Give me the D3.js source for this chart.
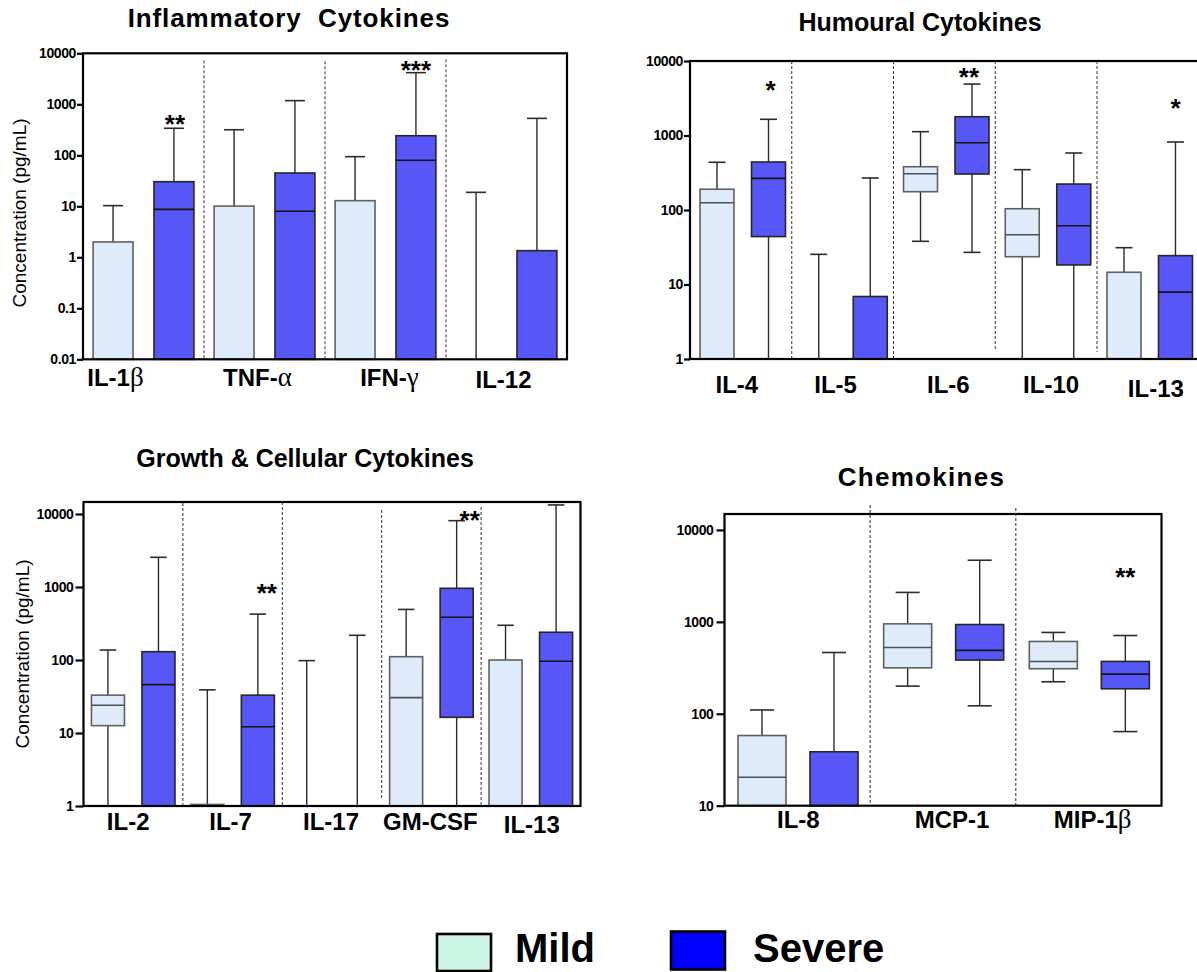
<!DOCTYPE html>
<html>
<head>
<meta charset="utf-8">
<script src="https://cdn.jsdelivr.net/npm/d3@7"></script>
<style>
body { margin: 0; background: #fff; }
svg text { font-family: "Liberation Sans", Arial, Helvetica, sans-serif; }
</style>
</head>
<body>
<svg id="chart" width="1197" height="972"></svg>
<script>
// each box is [min, q1, median, q3, max]; null means it sits at/below the axis floor (not drawn)

// Inflammatory cytokines
const inflCats = ["IL-1β", "TNF-α", "IFN-γ", "IL-12"];
const inflMild = [
    [null, null, null, 2.0, 10.3],
    [null, null, null, 10.1, 317],
    [null, null, null, 12.9, 94],
    [null, null, null, null, 18.8]
];
const inflSevere = [
    [null, null, 8.7, 30.4, 339],
    [null, null, 8.0, 45, 1180],
    [null, null, 80, 242, 4170],
    [null, null, null, 1.35, 530]
];
const inflTicks = [0.01, 0.1, 1, 10, 100, 1000, 10000];
const inflStars = [["IL-1β", "**", 515], ["IFN-γ", "***", 5900]];

// Humoural cytokines
const humCats = ["IL-4", "IL-5", "IL-6", "IL-10", "IL-13"];
const humMild = [
    [null, null, 125, 190, 437],
    [null, null, null, null, 25.4],
    [38, 176, 307, 381, 1125],
    [null, 23.6, 46.6, 104, 348],
    [null, null, null, 14.6, 31.2]
];
const humSevere = [
    [null, 44, 266, 441, 1650],
    [null, null, null, 6.9, 269],
    [27, 304, 800, 1786, 4900],
    [null, 18.3, 61.5, 223, 582],
    [null, null, 7.9, 24.4, 818]
];
const humTicks = [1, 10, 100, 1000, 10000];
const humStars = [["IL-4", "*", 4770], ["IL-6", "**", 7200], ["IL-13", "*", 2740]];

// Growth & cellular cytokines
const growCats = ["IL-2", "IL-7", "IL-17", "GM-CSF", "IL-13"];
const growMild = [
    [null, 12.6, 24, 33, 137],
    [null, null, null, 1.05, 39],
    [null, null, null, null, 98],
    [null, null, 30.5, 111, 493],
    [null, null, null, 100, 299]
];
const growSevere = [
    [null, null, 46, 130, 2550],
    [null, null, 12.2, 33, 425],
    [null, null, null, null, 218],
    [null, 16.4, 385, 960, 8100],
    [null, null, 96, 240, 13300]
];
const growTicks = [1, 10, 100, 1000, 10000];
const growStars = [["IL-7", "**", 980], ["GM-CSF", "**", 9800]];

// Chemokines
const chemCats = ["IL-8", "MCP-1", "MIP-1β"];
const chemMild = [
    [null, null, 20.4, 58, 110],
    [200, 316, 525, 951, 2090],
    [223, 309, 371, 612, 767]
];
const chemSevere = [
    [null, null, null, 38.6, 464],
    [122, 384, 489, 935, 4680],
    [64, 187, 270, 371, 710]
];
const chemTicks = [10, 100, 1000, 10000];
const chemStars = [["MIP-1β", "**", 3470]];

const groups = ["Mild", "Severe"];
const legendColors = ["#cdf6e6", "#0000fe"];

// layout of the four panels
const panels = [
    {
        title: "Inflammatory  Cytokines", titleX: 289, titleY: 27, titleSize: 26, titleSpacing: 0.9,
        cats: inflCats, mild: inflMild, severe: inflSevere, ticks: inflTicks, stars: inflStars,
        x0: 83, x1: 567, y0: 53.3, y1: 359.3, domain: [0.01, 10000],
        inner: 0.344, outer: 0.166, align: 0.5, tickSize: 6, tickPad: 1,
        labelY: 386, nudge: [[-28, 0], [-7, 0], [4, 0], [-3, 2]],
        seps: [[7, 0], [8, 0], [6, 0]], starDx: [1, 0],
        yLabel: { x: 26, y: 213 }
    },
    {
        title: "Humoural Cytokines", titleX: 920, titleY: 31, titleSize: 25, titleSpacing: 0,
        cats: humCats, mild: humMild, severe: humSevere, ticks: humTicks, stars: humStars,
        x0: 690, x1: 1198.75, y0: 61, y1: 359, domain: [1, 10000],
        inner: 0.34, outer: 0.158, align: 0.615, tickSize: 6, tickPad: 1,
        labelY: 393, nudge: [[-4, 0], [-7, 0], [4, 0], [5, 0], [8, 4]],
        seps: [[0, 0], [0, 0], [0, 8], [0, 7]], starDx: [2, -3, 0],
        yLabel: null
    },
    {
        title: "Growth & Cellular Cytokines", titleX: 305, titleY: 467, titleSize: 25, titleSpacing: 0,
        cats: growCats, mild: growMild, severe: growSevere, ticks: growTicks, stars: growStars,
        x0: 83.5, x1: 580.5, y0: 502, y1: 806, domain: [1, 14600],
        inner: 0.3465, outer: 0.157, align: 0.5, tickSize: 8, tickPad: 2,
        labelY: 830, nudge: [[-5, 0], [-2, 0], [-1, 0], [-1, 0], [1, 3]],
        seps: [[1, 0], [0, 0], [8, 7], [5, 0]], starDx: [9, 13],
        yLabel: { x: 29, y: 654 }
    },
    {
        title: "Chemokines", titleX: 921.5, titleY: 486, titleSize: 26, titleSpacing: 1.3,
        cats: chemCats, mild: chemMild, severe: chemSevere, ticks: chemTicks, stars: chemStars,
        x0: 724.5, x1: 1161.5, y0: 514, y1: 805.7, domain: [10, 14900],
        inner: 0.333, outer: 0.178, align: 0.526, tickSize: 8, tickPad: 3,
        labelY: 828, nudge: [[1, 0], [9, 0], [4, 0]],
        seps: [[-9, 0], [-6, 0]], starDx: [0],
        yLabel: null
    }
];

const style = {
    Mild: { fill: "#deebfa", stroke: "#606060", median: "#505050" },
    Severe: { fill: "#5757f8", stroke: "#262626", median: "#151515" }
};

const svg = d3.select("#chart");
svg.append("rect").attr("width", 1197).attr("height", 972).attr("fill", "#fff");

function drawLabel(sel, label) {
    // greek letters at the end are set in a serif face, like the original Symbol glyphs
    let last = label.slice(-1);
    if ("αβγ".indexOf(last) >= 0) {
        sel.append("tspan").text(label.slice(0, -1));
        sel.append("tspan")
            .attr("font-family", "'Liberation Serif', 'Times New Roman', serif")
            .attr("font-weight", "normal")
            .attr("font-size", "27px")
            .text(last);
    } else {
        sel.text(label);
    }
}

panels.forEach(function (p) {
    let g = svg.append("g");

    let x = d3.scaleBand().domain(p.cats).range([p.x0, p.x1]).padding(0);
    let xs = d3.scaleBand().domain(groups).range([0, x.bandwidth()])
        .paddingInner(p.inner).paddingOuter(p.outer).align(p.align);
    let y = d3.scaleLog().domain(p.domain).range([p.y1, p.y0]).clamp(true);
    let floor = p.domain[0];
    let bw = xs.bandwidth();

    // title
    g.append("text")
        .attr("x", p.titleX)
        .attr("y", p.titleY)
        .attr("text-anchor", "middle")
        .attr("font-size", p.titleSize + "px")
        .attr("font-weight", "bold")
        .attr("letter-spacing", p.titleSpacing)
        .style("white-space", "pre")
        .text(p.title);

    // dashed separators between cytokines
    p.cats.slice(1).forEach(function (c, i) {
        g.append("line")
            .attr("x1", x(c)).attr("x2", x(c))
            .attr("y1", p.y0 + p.seps[i][0])
            .attr("y2", p.y1 - p.seps[i][1])
            .attr("stroke", "#333")
            .attr("stroke-width", 1)
            .attr("stroke-dasharray", "3,2");
    });

    // boxes
    groups.forEach(function (grp) {
        let stats = grp === "Mild" ? p.mild : p.severe;
        let st = style[grp];
        let rows = p.cats.map(function (c, i) { return { cat: c, s: stats[i] }; });

        let box = g.selectAll(".box" + grp)
            .data(rows)
            .enter().append("g")
            .attr("class", "box" + grp)
            .attr("transform", function (d) { return "translate(" + (x(d.cat) + xs(grp)) + ",0)"; });

        // upper whisker
        box.filter(function (d) { return d.s[4] != null; })
            .each(function (d) {
                let b = d3.select(this);
                let top = y(d.s[4]);
                b.append("line")
                    .attr("x1", bw / 2).attr("x2", bw / 2)
                    .attr("y1", y(d.s[3] == null ? floor : d.s[3])).attr("y2", top)
                    .attr("stroke", "#2b2b2b").attr("stroke-width", 1.4);
                b.append("line")
                    .attr("x1", bw / 4).attr("x2", bw * 3 / 4)
                    .attr("y1", top).attr("y2", top)
                    .attr("stroke", "#2b2b2b").attr("stroke-width", 1.6);
            });

        // lower whisker
        box.filter(function (d) { return d.s[1] != null; })
            .each(function (d) {
                let b = d3.select(this);
                let low = y(d.s[0] == null ? floor : d.s[0]);
                b.append("line")
                    .attr("x1", bw / 2).attr("x2", bw / 2)
                    .attr("y1", y(d.s[1])).attr("y2", low)
                    .attr("stroke", "#2b2b2b").attr("stroke-width", 1.4);
                if (d.s[0] != null) {
                    b.append("line")
                        .attr("x1", bw / 4).attr("x2", bw * 3 / 4)
                        .attr("y1", low).attr("y2", low)
                        .attr("stroke", "#2b2b2b").attr("stroke-width", 1.6);
                }
            });

        // interquartile box
        box.append("rect")
            .attr("x", 0)
            .attr("width", bw)
            .attr("y", function (d) { return y(d.s[3] == null ? floor : d.s[3]); })
            .attr("height", function (d) {
                return y(d.s[1] == null ? floor : d.s[1]) - y(d.s[3] == null ? floor : d.s[3]);
            })
            .attr("fill", st.fill)
            .attr("stroke", st.stroke)
            .attr("stroke-width", 1.6);

        // median
        box.filter(function (d) { return d.s[2] != null; })
            .append("line")
            .attr("x1", 0).attr("x2", bw)
            .attr("y1", function (d) { return y(d.s[2]); })
            .attr("y2", function (d) { return y(d.s[2]); })
            .attr("stroke", st.median)
            .attr("stroke-width", 1.6);
    });

    // frame
    g.append("rect")
        .attr("x", p.x0).attr("y", p.y0)
        .attr("width", p.x1 - p.x0).attr("height", p.y1 - p.y0)
        .attr("fill", "none")
        .attr("stroke", "#000")
        .attr("stroke-width", 2.2);

    // y axis
    let ax = g.append("g")
        .attr("transform", "translate(" + p.x0 + ",0)")
        .call(d3.axisLeft(y)
            .tickValues(p.ticks)
            .tickFormat(function (d) { return String(d); })
            .tickSize(p.tickSize)
            .tickPadding(p.tickPad)
            .tickSizeOuter(0));
    ax.select(".domain").remove();
    ax.selectAll(".tick line").attr("stroke", "#000").attr("stroke-width", 2.2);
    ax.selectAll(".tick text")
        .attr("fill", "#000")
        .attr("font-family", "'Liberation Sans', Arial, sans-serif")
        .attr("font-size", "14px")
        .attr("font-weight", "bold")
        .attr("letter-spacing", -0.4);

    // category labels
    p.cats.forEach(function (c, i) {
        let t = g.append("text")
            .attr("x", x(c) + x.bandwidth() / 2 + p.nudge[i][0])
            .attr("y", p.labelY + p.nudge[i][1])
            .attr("text-anchor", "middle")
            .attr("font-size", "24px")
            .attr("font-weight", "bold");
        drawLabel(t, c);
    });

    // significance stars
    p.stars.forEach(function (s, i) {
        g.append("text")
            .attr("x", x(s[0]) + xs("Severe") + bw / 2 + p.starDx[i])
            .attr("y", y(s[2]) + 14)
            .attr("text-anchor", "middle")
            .attr("font-size", "26px")
            .attr("font-weight", "bold")
            .text(s[1]);
    });

    // y axis title
    if (p.yLabel) {
        g.append("text")
            .attr("transform", "translate(" + p.yLabel.x + "," + p.yLabel.y + ") rotate(-90)")
            .attr("text-anchor", "middle")
            .attr("font-size", "19px")
            .text("Concentration (pg/mL)");
    }
});

// legend
let legendX = d3.scalePoint().domain(groups).range([437, 671]);
let leg = svg.selectAll(".legend")
    .data(groups)
    .enter().append("g")
    .attr("class", "legend")
    .attr("transform", function (d) { return "translate(" + legendX(d) + "," + (d === "Mild" ? 934 : 931.5) + ")"; });

leg.append("rect")
    .attr("width", 54)
    .attr("height", function (d) { return d === "Mild" ? 37 : 38; })
    .attr("fill", function (d, i) { return legendColors[i]; })
    .attr("stroke", "#000")
    .attr("stroke-width", 2.6);

leg.append("text")
    .attr("x", function (d) { return d === "Mild" ? 78 : 82; })
    .attr("y", function (d) { return d === "Mild" ? 28 : 30.5; })
    .attr("font-size", "40px")
    .attr("font-weight", "bold")
    .text(function (d) { return d; });
</script>
</body>
</html>
